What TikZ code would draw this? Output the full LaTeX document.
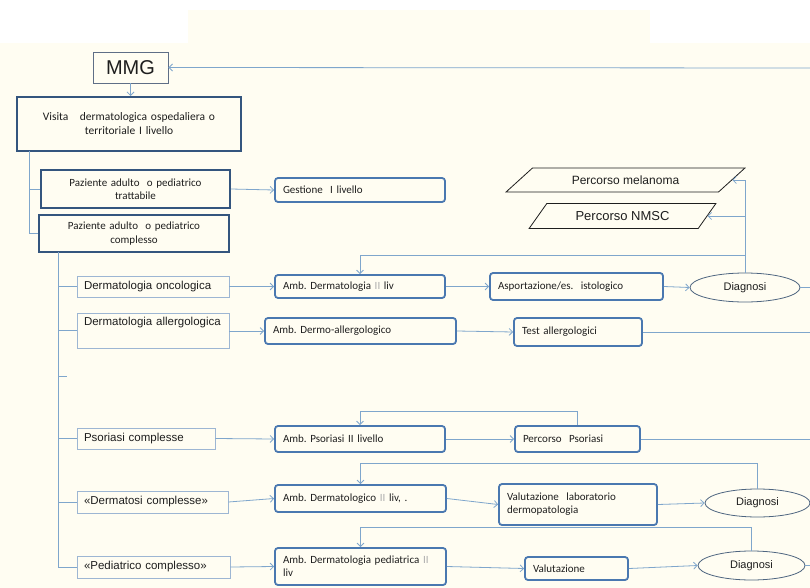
\documentclass[tikz,border=0pt]{standalone}
\usepackage{fontspec}
\setmainfont{Carlito}
\newfontfamily\arialfont{Liberation Sans}
\usepackage{tikz}
\usetikzlibrary{positioning,arrows.meta,shapes.geometric}
\frenchspacing
\definecolor{cream}{HTML}{FFFDF2}
\definecolor{linkblue}{HTML}{7FA6CC}
\definecolor{ambblue}{HTML}{4A78B0}
\definecolor{pazblue}{HTML}{34557E}
\definecolor{catblue}{HTML}{9DB6D3}
\definecolor{ovalgray}{HTML}{4E6580}
\definecolor{mmgframe}{HTML}{5E6E86}
\definecolor{txt}{HTML}{1E1E1E}
\newcommand\liv{{\color{gray!65}II}}
\tikzset{
  link/.style={draw=linkblue,line width=0.8pt,-{Straight Barb[length=3.5pt,width=7pt]}},
  line/.style={draw=linkblue,line width=0.8pt},
  ambbox/.style={draw=ambblue,line width=1.8pt,rounded corners=3pt,text=txt,align=left,
    inner xsep=8pt,inner ysep=2pt,font=\fontsize{11}{13}\selectfont},
  pazbox/.style={draw=pazblue,line width=2pt,align=center,text=txt,inner sep=3pt,
    font=\fontsize{11}{13.5}\selectfont},
  catbox/.style={draw=catblue,line width=0.8pt,align=left,text=txt,inner xsep=7pt,
    inner ysep=2pt,font=\arialfont\fontsize{11.5}{14}\selectfont},
  diagn/.style={ellipse,draw=ovalgray,line width=0.8pt,inner sep=0pt,text=txt,
    font=\arialfont\fontsize{11}{13}\selectfont},
  percorso/.style={trapezium,trapezium stretches=true,draw=txt,line width=0.8pt,
    inner sep=0pt,text=txt,font=\arialfont\fontsize{12}{14}\selectfont},
}
\begin{document}
\begin{tikzpicture}[x=1pt,y=-1pt]
  % page and background
  \useasboundingbox (0,0) rectangle (810,588);
  \fill[cream] (0,43) rectangle (810,588);
  \fill[cream] (188,10) rectangle (650,43);

  % top
  \node[draw=mmgframe,line width=0.9pt,minimum width=75pt,minimum height=31pt,text=txt,
    font=\arialfont\fontsize{20}{22}\selectfont] (mmg) at (130.5,67.5) {MMG};
  \node[pazbox,text width=218pt,minimum height=54pt,font=\fontsize{11.5}{14}\selectfont] (visita) at (129,124)
    {Visita\ \ \ dermatologica ospedaliera o\\territoriale I livello};
  \node[pazbox,text width=183pt,minimum height=38pt] (paztr) at (135.5,189)
    {Paziente adulto\ \ o pediatrico\\trattabile};
  \node[pazbox,text width=184pt,minimum height=37pt] (pazco) at (134,233.5)
    {Paziente adulto\ \ o pediatrico\\complesso};
  \node[ambbox,text width=154pt,minimum height=24pt] (gest) at (360,190) {Gestione\ \ I livello};

  % percorsi
  \node[percorso,minimum width=239pt,minimum height=24pt,
    trapezium left angle=30,trapezium right angle=150] (mel) at (625.5,180) {Percorso melanoma};
  \node[percorso,minimum width=187pt,minimum height=25pt,font=\arialfont\fontsize{13}{15}\selectfont,
    trapezium left angle=40,trapezium right angle=140] (nmsc) at (622.5,216) {Percorso NMSC};

  % left column
  \node[catbox,text width=138pt,minimum height=21pt] (onc) at (153,286.5) {Dermatologia oncologica};
  \node[catbox,text width=138pt,minimum height=35pt] (all) at (153,330.5) {Dermatologia allergologica\\ \strut};
  \node[catbox,text width=124pt,minimum height=21pt] (psc) at (146,438.5) {Psoriasi complesse};
  \node[catbox,text width=137pt,minimum height=22pt] (dt) at (152.5,502) {«Dermatosi complesse»};
  \node[catbox,text width=139pt,minimum height=22pt] (pedc) at (153.5,567) {«Pediatrico complesso»};

  % ambulatori
  \node[ambbox,text width=154pt,minimum height=23pt] (amb1) at (360,286.5) {Amb. Dermatologia \liv\ liv};
  \node[ambbox,text width=175pt,minimum height=26pt] (allamb) at (360.5,331) {Amb. Dermo-allergologico};
  \node[ambbox,text width=154pt,minimum height=26pt] (ambps) at (360,439) {Amb. Psoriasi II livello};
  \node[ambbox,text width=155pt,minimum height=27pt] (ambdt) at (360.5,498.5) {Amb. Dermatologico \liv\ liv, .};
  \node[ambbox,text width=155pt,minimum height=37pt] (ambped) at (360.5,566.5) {Amb. Dermatologia pediatrica \liv\\liv};

  % next step
  \node[ambbox,text width=157pt,minimum height=27pt] (asp) at (576.5,286.5) {Asportazione/es.\ \ istologico};
  \node[ambbox,text width=112pt,minimum height=28pt] (test) at (578,332) {Test allergologici};
  \node[ambbox,text width=109pt,minimum height=26pt] (percps) at (577.5,439) {Percorso\ \ Psoriasi};
  \node[ambbox,text width=142pt,minimum height=41pt] (val) at (578,504.5) {Valutazione\ \ laboratorio\\dermopatologia};
  \node[ambbox,text width=87pt,minimum height=23pt] (valz) at (576.5,568.5) {Valutazione};

  % diagnosi
  \node[diagn,minimum width=110pt,minimum height=29pt] (d1) at (745,287.5) {Diagnosi};
  \node[diagn,minimum width=105pt,minimum height=28pt] (d2) at (757.5,503) {Diagnosi};
  \node[diagn,minimum width=107pt,minimum height=29pt] (d3) at (751.5,565.5) {Diagnosi};

  % free ends on the right border
  \coordinate (rA) at (810,68);
  \coordinate (rB) at (810,287.5);
  \coordinate (rC) at (810,332);
  \coordinate (rD) at (810,439);
  \coordinate (rE) at (810,565.5);
  % trunks on the left
  \coordinate (tA) at (29,151);
  \coordinate (tB) at (58,252);

  \draw[link] (rA) -- (mmg.east);
  \draw[link] (mmg.south) -- (mmg.south |- visita.north);
  \draw[line] (tA) |- (paztr.west);
  \draw[line] (tA) |- (pazco.west);
  \draw[link] (paztr.east) -- (gest.west);

  \draw[line] (tB) |- (pedc.west);
  \foreach \n in {onc,all,psc,dt}
    \draw[line] (tB |- \n.west) -- (\n.west);
  \draw[line] (tB |- 0,376) -- ++(9,0);

  % rows
  \draw[link] (onc.east) -- (amb1.west);
  \draw[link] (amb1.east) -- (asp.west);
  \draw[link] (asp.east) -- (d1.west);
  \draw[line] (d1.east) -- (rB);
  \draw[link] (d1.north) |- (mel.right side);
  \draw[link] (d1.north) |- (nmsc.right side);
  \draw[link] (d1.north) -- ++(0,-17) -| (amb1.north);

  \draw[link] (all.east |- allamb.west) -- (allamb.west);
  \draw[link] (allamb.east) -- (test.west);
  \draw[line] (test.east) -- (rC);

  \draw[link] (psc.east) -- (ambps.west);
  \draw[link] (ambps.east) -- (percps.west);
  \draw[line] (percps.east) -- (rD);
  \draw[link] (percps.north) -- ++(0,-14) -| (ambps.north);

  \draw[link] (dt.east) -- (ambdt.west);
  \draw[link] (ambdt.east) -- (val.west);
  \draw[link] (val.east) -- (d2.west);
  \draw[link] (d2.north) -- ++(0,-25) -| (ambdt.north);

  \draw[link] (pedc.east) -- (ambped.west);
  \draw[link] (ambped.east) -- (valz.west);
  \draw[link] (valz.east) -- (d3.west);
  \draw[line] (d3.east) -- (rE);
  \draw[link] (d3.north) -- ++(0,-23) -| (ambped.north);
\end{tikzpicture}
\end{document}
